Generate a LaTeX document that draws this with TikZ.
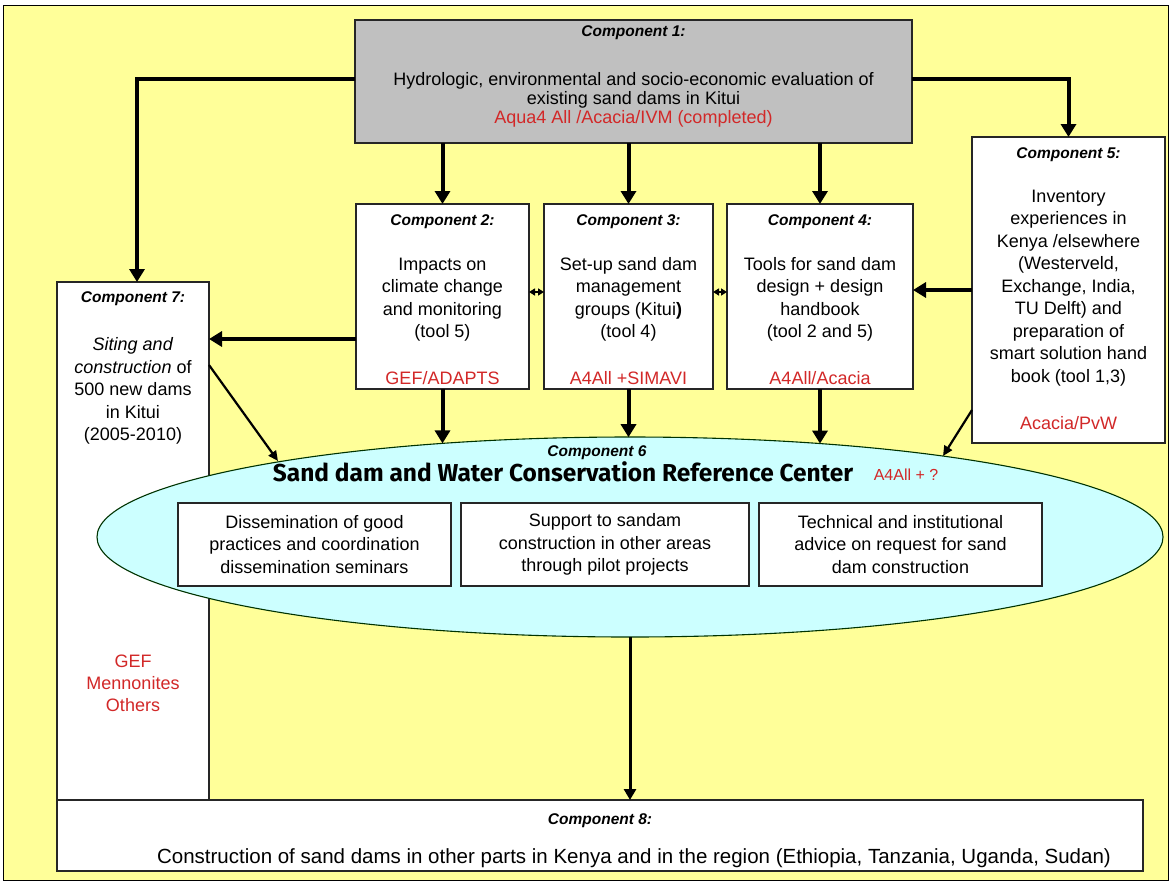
\documentclass[tikz,border=0pt]{standalone}
\usepackage{fontspec}
\setmainfont{Liberation Sans}
\newfontfamily\headfont{Fira Sans}
\usepackage{graphicx}
\usetikzlibrary{arrows.meta,shapes.geometric}
\definecolor{bgyellow}{RGB}{255,255,153}
\definecolor{boxgray}{RGB}{192,192,192}
\definecolor{ellcyan}{RGB}{204,255,255}
\definecolor{fundred}{RGB}{210,40,40}
\begin{document}
\begin{tikzpicture}[x=1pt,y=-1pt,
  every node/.style={inner sep=0pt, outer sep=0pt},
  box/.style={draw=black!85, line width=1.1pt, fill=white, anchor=north west, rectangle},
  lbl/.style={font=\fontsize{15.5}{17}\selectfont\bfseries\itshape},
  body/.style={font=\fontsize{18}{22.5}\selectfont, align=center},
  fund/.style={font=\fontsize{18}{22.5}\selectfont, text=fundred, align=center},
  bigarrow/.style={line width=4pt, -{Triangle[length=13pt,width=15pt]}, line join=miter},
  midarrow/.style={line width=3pt, -{Triangle[length=11pt,width=12pt]}},
  thinarrow/.style={line width=2.2pt, -{Triangle[length=10pt,width=9pt]}},
  link/.style={line width=1.5pt, {Triangle[length=6pt,width=7pt]}-{Triangle[length=6pt,width=7pt]}},
]
\fill[white] (0,0) rectangle (1172,884);
\useasboundingbox (0,0) rectangle (1172,884);
\draw[fill=bgyellow, line width=1pt] (3,5) rectangle (1168,880);

% boxes
\node[box, fill=boxgray, minimum width=557pt, minimum height=123pt] (c1) at (355,20) {};
\node[box, minimum width=173pt, minimum height=185pt] (c2) at (356,204) {};
\node[box, minimum width=169pt, minimum height=185pt] (c3) at (544,204) {};
\node[box, minimum width=186pt, minimum height=185pt] (c4) at (727,204) {};
\node[box, minimum width=193pt, minimum height=306pt] (c5) at (972,137) {};
\node[box, minimum width=152pt, minimum height=518pt] (c7) at (57,282) {};
\node[draw=black!80!green, line width=1.1pt, fill=ellcyan, ellipse, minimum width=1066pt, minimum height=200pt] (ell) at (630,537) {};
\node[box, minimum width=273pt, minimum height=83pt] (b1) at (178,503) {};
\node[box, minimum width=288pt, minimum height=83pt] (b2) at (461,503) {};
\node[box, minimum width=283pt, minimum height=83pt] (b3) at (759,503) {};
\node[box, minimum width=1086pt, minimum height=71pt] (c8) at (57,800) {};

% texts
\node[lbl] (c1l) at (633.5,33) {Component 1:};
\node[body, font=\fontsize{18}{19}\selectfont] (c1t) at (633.5,100) {Hydrologic, environmental and socio-economic evaluation of\\existing sand dams in Kitui\\\textcolor{fundred}{Aqua4 All /Acacia/IVM (completed)}};

\node[lbl] (c2l) at (442.5,222) {Component 2:};
\node[body] (c2t) at (442.5,299.5) {Impacts on\\climate change\\and monitoring\\(tool 5)};
\node[fund] (c2f) at (442.5,378) {GEF/ADAPTS};

\node[lbl] (c3l) at (628.5,222) {Component 3:};
\node[body] (c3t) at (628.5,299.5) {Set-up sand dam\\management\\groups (Kitui\textbf{)}\\(tool 4)};
\node[fund] (c3f) at (628.5,378) {A4All +SIMAVI};

\node[lbl] (c4l) at (820,222) {Component 4:};
\node[body] (c4t) at (820,299.5) {Tools for sand dam\\design + design\\handbook\\(tool 2 and 5)};
\node[fund] (c4f) at (820,378) {A4All/Acacia};

\node[lbl] (c5l) at (1068.5,155) {Component 5:};
\node[body] (c5t) at (1068.5,288) {Inventory\\experiences in\\Kenya /elsewhere\\(Westerveld,\\Exchange, India,\\TU Delft) and\\preparation of\\smart solution hand\\book (tool 1,3)};
\node[fund] (c5f) at (1068.5,423) {Acacia/PvW};

\node[lbl] (c7l) at (133,299) {Component 7:};
\node[body] (c7t) at (133,391) {\textit{Siting and}\\\textit{construction} of\\500 new dams\\in Kitui\\(2005-2010)};
\node[fund, font=\fontsize{18}{22}\selectfont] (c7f) at (133,683) {GEF\\Mennonites\\Others};

\node[lbl] (c6l) at (597,453) {Component 6};
\node (c6h) at (563,472) {\resizebox{580pt}{!}{\headfont\bfseries Sand dam and Water Conservation Reference Center}};
\node[font=\fontsize{16}{18}\selectfont, text=fundred] (c6f) at (906,475) {A4All + ?};

\node[body] (b1t) at (314.5,544.5) {Dissemination of good\\practices and coordination\\dissemination seminars};
\node[body] (b2t) at (605,544.5) {Support to sandam\\construction in other areas\\through pilot projects};
\node[body] (b3t) at (900.5,544.5) {Technical and institutional\\advice on request for sand\\dam construction};

\node[lbl] (c8l) at (600,821) {Component 8:};
\node[body, font=\fontsize{20.5}{24}\selectfont] (c8t) at (634,858) {Construction of sand dams in other parts in Kenya and in the region (Ethiopia, Tanzania, Uganda, Sudan)};

% connectors
\coordinate (e2) at (442.5,443.4);
\coordinate (e3) at (628.5,437.2);
\coordinate (e4) at (820,443.6);
\coordinate (e7) at (278,461);
\coordinate (e5) at (943,456);

\draw[bigarrow] (c1.west |- 0,79) -| ([xshift=4pt]c7.north);
\draw[bigarrow] (c1.east |- 0,79) -| (c5.north);
\draw[bigarrow] (c1.south -| c2.north) -- (c2.north);
\draw[bigarrow] (c1.south -| c3.north) -- (c3.north);
\draw[bigarrow] (c1.south -| c4.north) -- (c4.north);
\draw[bigarrow] (c2.west |- 0,339) -- (c7.east |- 0,339);
\draw[bigarrow] (c5.west |- 0,290) -- (c4.east |- 0,290);
\draw[link] (c2.east |- 0,292) -- (c3.west |- 0,292);
\draw[link] (c3.east |- 0,292) -- (c4.west |- 0,292);
\draw[bigarrow] (c2.south) -- (e2);
\draw[bigarrow] (c3.south) -- (e3);
\draw[bigarrow] (c4.south) -- (e4);
\draw[thinarrow] (c7.east |- 0,365) -- (e7);
\draw[thinarrow] (c5.west |- 0,410) -- (e5);
\draw[midarrow] (ell.south) -- (ell.south |- c8.north);
\end{tikzpicture}
\end{document}
